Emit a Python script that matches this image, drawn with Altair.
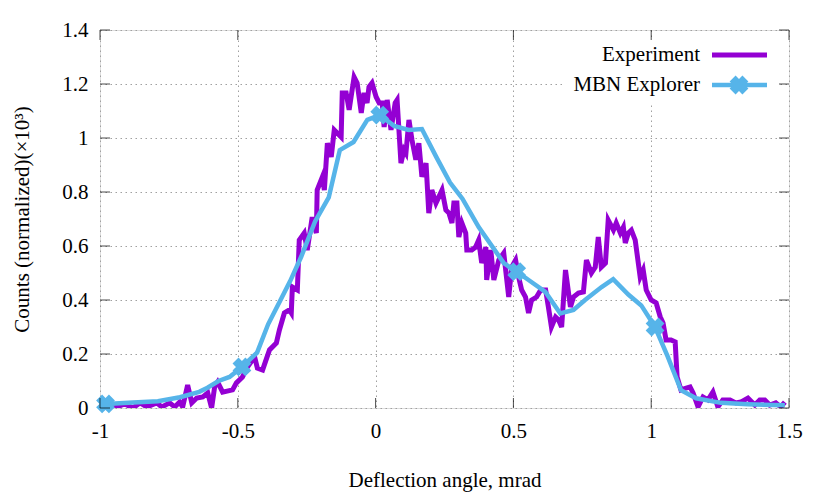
import altair as alt
import pandas as pd

# Experiment (noisy measured curve)
exp_x = [-1.0, -0.95, -0.91, -0.881, -0.855, -0.830, -0.794, -0.776, -0.747, -0.729, -0.711, -0.700,
         -0.682, -0.667, -0.649, -0.627, -0.609, -0.595, -0.584, -0.573, -0.555, -0.519, -0.505,
         -0.483, -0.465, -0.439, -0.429, -0.410, -0.385, -0.360, -0.349, -0.331, -0.313, -0.306,
         -0.302, -0.284, -0.277, -0.259, -0.248, -0.230, -0.215, -0.212, -0.193, -0.186, -0.175,
         -0.161, -0.150, -0.125, -0.121, -0.107, -0.096, -0.078, -0.067, -0.052, -0.042, -0.031,
         -0.024, -0.013, 0.002, 0.013, 0.024, 0.031, 0.042, 0.056, 0.071, 0.078, 0.092, 0.103,
         0.110, 0.121, 0.132, 0.146, 0.157, 0.168, 0.183, 0.193, 0.204, 0.219, 0.241, 0.255,
         0.266, 0.277, 0.284, 0.295, 0.302, 0.313, 0.327, 0.331, 0.349, 0.363, 0.374, 0.385,
         0.400, 0.403, 0.418, 0.429, 0.447, 0.465, 0.483, 0.494, 0.508, 0.519, 0.530, 0.544,
         0.555, 0.566, 0.584, 0.599, 0.617, 0.627, 0.638, 0.653, 0.664, 0.675, 0.689, 0.707,
         0.718, 0.736, 0.754, 0.765, 0.783, 0.797, 0.808, 0.819, 0.834, 0.844, 0.863, 0.873,
         0.888, 0.899, 0.906, 0.917, 0.928, 0.942, 0.960, 0.971, 0.982, 1.000, 1.018, 1.033,
         1.043, 1.054, 1.072, 1.087, 1.094, 1.108, 1.127, 1.141, 1.152, 1.170, 1.188, 1.206,
         1.224, 1.242, 1.260, 1.286, 1.307, 1.325, 1.351, 1.376, 1.394, 1.412, 1.430, 1.452,
         1.470, 1.485]
exp_y = [0.010, 0.000, 0.015, 0.000, 0.019, 0.004, 0.019, 0.004, 0.019, 0.004, 0.022, 0.004,
         0.085, 0.019, 0.037, 0.041, 0.056, 0.000, 0.078, 0.096, 0.059, 0.067, 0.093,
         0.115, 0.152, 0.189, 0.148, 0.141, 0.215, 0.241, 0.289, 0.352, 0.363, 0.352,
         0.448, 0.437, 0.622, 0.648, 0.585, 0.707, 0.648, 0.807, 0.856, 0.807, 0.981,
         0.930, 1.030, 1.004, 1.167, 1.167, 1.104, 1.226, 1.204, 1.093, 1.167, 1.130,
         1.189, 1.204, 1.152, 1.130, 1.130, 1.041, 1.141, 1.030, 1.130, 1.141, 0.907, 0.956,
         0.944, 1.067, 0.993, 0.919, 0.981, 0.856, 0.907, 0.722, 0.807, 0.759, 0.807, 0.733,
         0.722, 0.685, 0.759, 0.759, 0.633, 0.685, 0.648, 0.585, 0.585, 0.596, 0.622, 0.537,
         0.596, 0.474, 0.585, 0.474, 0.548, 0.574, 0.411, 0.522, 0.548, 0.485, 0.437, 0.411,
         0.352, 0.400, 0.411, 0.437, 0.437, 0.374, 0.300, 0.337, 0.326, 0.300, 0.511, 0.374,
         0.411, 0.426, 0.430, 0.548, 0.500, 0.522, 0.633, 0.522, 0.537, 0.696, 0.659, 0.685,
         0.648, 0.670, 0.611, 0.648, 0.659, 0.622, 0.485, 0.511, 0.437, 0.400, 0.389, 0.337,
         0.315, 0.252, 0.252, 0.245, 0.115, 0.067, 0.074, 0.078, 0.056, 0.004, 0.041, 0.030,
         0.059, 0.004, 0.030, 0.030, 0.019, 0.022, 0.037, 0.011, 0.030, 0.030, 0.011, 0.019,
         0.004, 0.022]

# MBN Explorer simulation
mbn_x = [-0.98, -0.88, -0.79, -0.71, -0.64, -0.61, -0.57, -0.53, -0.485, -0.43, -0.39, -0.35,
         -0.31, -0.27, -0.22, -0.17, -0.13, -0.08, -0.03, 0.015, 0.067, 0.12, 0.168, 0.22,
         0.27, 0.315, 0.374, 0.465, 0.512, 0.555, 0.616, 0.67, 0.718, 0.76, 0.82, 0.862,
         0.917, 0.964, 1.014, 1.06, 1.108, 1.163, 1.253, 1.35, 1.485]
mbn_y = [0.015, 0.02, 0.025, 0.04, 0.06, 0.075, 0.10, 0.115, 0.152, 0.205, 0.31, 0.39,
         0.47, 0.56, 0.69, 0.78, 0.955, 0.985, 1.067, 1.085, 1.045, 1.03, 1.033, 0.93,
         0.835, 0.775, 0.67, 0.537, 0.505, 0.474, 0.43, 0.35, 0.363, 0.40, 0.448, 0.477,
         0.42, 0.38, 0.30, 0.19, 0.066, 0.036, 0.019, 0.014, 0.01]
marker_x = [-0.98, -0.485, 0.015, 0.512, 1.014]
marker_y = [0.015, 0.152, 1.085, 0.505, 0.30]

x_ticks = [-1, -0.5, 0, 0.5, 1, 1.5]
y_ticks = [0, 0.2, 0.4, 0.6, 0.8, 1.0, 1.2, 1.4]

legend_labels = ["Experiment", "MBN Explorer"]

PURPLE = "#9400D3"
BLUE = "#56B4E9"
FONT = "Liberation Serif"
W, H = 689, 378

exp_df = pd.DataFrame({"x": exp_x, "y": exp_y})
mbn_df = pd.DataFrame({"x": mbn_x, "y": mbn_y})
mk_df = pd.DataFrame({"x": marker_x, "y": marker_y})
xt_df = pd.DataFrame({"x": x_ticks})
yt_df = pd.DataFrame({"y": y_ticks})
one = pd.DataFrame({"k": [0]})

xs = alt.Scale(domain=[-1, 1.5], nice=False, zero=False)
ys = alt.Scale(domain=[0, 1.4], nice=False, zero=False)

x_axis = alt.Axis(values=x_ticks, labelExpr="toString(datum.value)", title="Deflection angle, mrad",
                  grid=True, gridDash=[1.5, 3.5], gridColor="#a0a0a0", gridWidth=1,
                  domain=False, ticks=False, labelPadding=12, titlePadding=28,
                  labelFlush=False, labelOverlap=False,
                  labelFont=FONT, titleFont=FONT, labelFontSize=21, titleFontSize=21,
                  titleFontWeight="normal", labelColor="black", titleColor="black")
y_axis = alt.Axis(values=y_ticks, labelExpr="toString(datum.value)",
                  title="Counts (normalized)(×10³)",
                  grid=True, gridDash=[1.5, 3.5], gridColor="#a0a0a0", gridWidth=1,
                  domain=False, ticks=False, labelPadding=12, titlePadding=29,
                  labelFlush=False, labelOverlap=False,
                  labelFont=FONT, titleFont=FONT, labelFontSize=21, titleFontSize=21,
                  titleFontWeight="normal", labelColor="black", titleColor="black")

X = alt.X("x:Q", scale=xs, axis=x_axis)
Y = alt.Y("y:Q", scale=ys, axis=y_axis)

exp_line = alt.Chart(exp_df).mark_line(color=PURPLE, strokeWidth=5, clip=True).encode(x=X, y=Y)
mbn_line = alt.Chart(mbn_df).mark_line(color=BLUE, strokeWidth=4.5, clip=True).encode(x=X, y=Y)
mbn_pts = alt.Chart(mk_df).mark_point(shape="cross", angle=45, filled=True, color=BLUE,
                                      stroke=BLUE, strokeWidth=2,
                                      size=260, opacity=1).encode(x=X, y=Y)

# legend box (opaque, hides grid)
leg_box = alt.Chart(one).mark_rect(color="white").encode(
    x=alt.value(465), x2=alt.value(677), y=alt.value(8), y2=alt.value(72))
leg_text1 = alt.Chart(one).mark_text(align="right", baseline="middle", font=FONT,
                                     fontSize=21, color="black", text=legend_labels[0]).encode(
    x=alt.value(600), y=alt.value(25))
leg_text2 = alt.Chart(one).mark_text(align="right", baseline="middle", font=FONT,
                                     fontSize=21, color="black", text=legend_labels[1]).encode(
    x=alt.value(600), y=alt.value(55))
leg_line1 = alt.Chart(one).mark_rule(color=PURPLE, strokeWidth=5).encode(
    x=alt.value(612), x2=alt.value(667), y=alt.value(25))
leg_line2 = alt.Chart(one).mark_rule(color=BLUE, strokeWidth=4.5).encode(
    x=alt.value(612), x2=alt.value(667), y=alt.value(55))
leg_pt = alt.Chart(one).mark_point(shape="cross", angle=45, filled=True,
                                   stroke=BLUE, strokeWidth=2,
                                   color=BLUE, size=260, opacity=1).encode(
    x=alt.value(639), y=alt.value(55))

# inward ticks on all four sides
xt_bot = alt.Chart(xt_df).mark_tick(color="black", size=10, thickness=1).encode(
    x=X, y=alt.value(H - 5))
xt_top = alt.Chart(xt_df).mark_tick(color="black", size=10, thickness=1).encode(
    x=X, y=alt.value(5))
yt_left = alt.Chart(yt_df).mark_tick(color="black", size=10, thickness=1).encode(
    y=Y, x=alt.value(5))
yt_right = alt.Chart(yt_df).mark_tick(color="black", size=10, thickness=1).encode(
    y=Y, x=alt.value(W - 5))

chart = alt.layer(
    exp_line, mbn_line, mbn_pts, leg_box, leg_text1, leg_text2, leg_line1, leg_line2, leg_pt,
    xt_bot, xt_top, yt_left, yt_right
).properties(
    width=W, height=H,
    autosize=alt.AutoSizeParams(type="none"),
    padding={"left": 92, "top": 22, "right": 20, "bottom": 90},
).configure_view(stroke="black", strokeWidth=1.2).configure(background="white")

chart.save("out.html", embed_options={"renderer": "svg", "actions": False})
